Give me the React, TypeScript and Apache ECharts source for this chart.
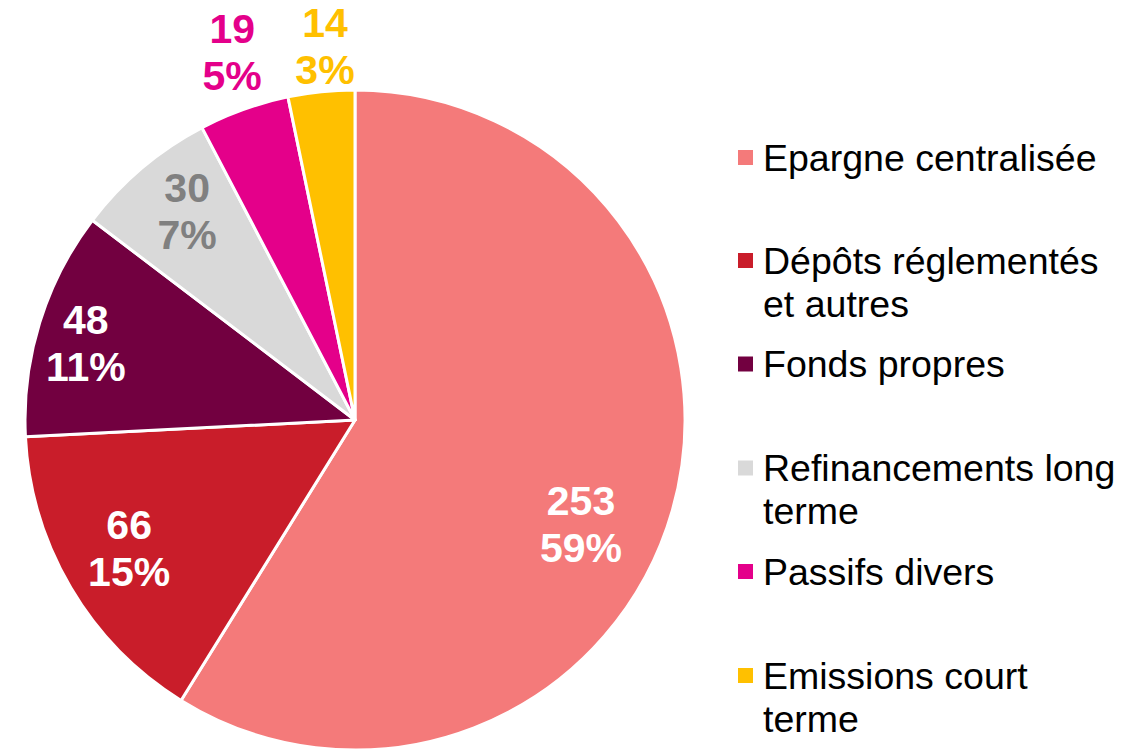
import React, { useEffect, useRef } from "react";
import * as echarts from "echarts";

// ---- data ----
const CATEGORIES = [
  "Epargne centralisée",
  "Dépôts réglementés et autres",
  "Fonds propres",
  "Refinancements long terme",
  "Passifs divers",
  "Emissions court terme",
];
const VALUES = [253, 66, 48, 30, 19, 14];
const PERCENT_LABELS = ["59%", "15%", "11%", "7%", "5%", "3%"];
const LEGEND_LABELS = [
  "Epargne centralisée",
  "Dépôts réglementés\net autres",
  "Fonds propres",
  "Refinancements long\nterme",
  "Passifs divers",
  "Emissions court\nterme",
];

// ---- styles / layout ----
const COLORS = ["#F47A7A", "#C91D2A", "#720040", "#D9D9D9", "#E4008A", "#FFC000"];
const LABEL_COLORS = ["#FFFFFF", "#FFFFFF", "#FFFFFF", "#808080", "#E4008A", "#FFC000"];
const CX = 355;
const CY = 420;
const R = 330;
// label anchor: [fraction of radius, angle clockwise from 12 o'clock in degrees]
const LABEL_POLAR: [number, number][] = [
  [0.755, 114.9],
  [0.788, 240.3],
  [0.848, 285.9],
  [0.81, 321.1],
  [1.173, 341.5],
  [1.135, 355.4],
];
// first-line centre of each legend entry (px)
const LEGEND_Y = [157.5, 260.5, 364, 468, 571.5, 675.5];
const LEGEND_X = 738;
const LEGEND_LINE = 43;
const FONT = "'Liberation Sans', Arial, Helvetica, sans-serif";

export default function App() {
  const ref = useRef<HTMLDivElement>(null);

  useEffect(() => {
    if (!ref.current) return;
    const chart = echarts.init(ref.current, undefined, { renderer: "svg" });

    const legends = CATEGORIES.map((name, i) => {
      const lines = LEGEND_LABELS[i].split("\n").length;
      // pad with empty lines above so the first text line is centred on the marker
      const padLines = lines - 1;
      const text = "\n".repeat(padLines) + LEGEND_LABELS[i];
      const boxH = (lines + padLines) * LEGEND_LINE;
      return {
        show: true,
        orient: "vertical",
        left: LEGEND_X,
        top: LEGEND_Y[i] - boxH / 2,
        padding: 0,
        itemWidth: 15,
        itemHeight: 15,
        icon: "rect",
        selectedMode: false,
        itemStyle: { borderWidth: 0 },
        data: [name],
        formatter: () => text,
        textStyle: {
          fontFamily: FONT,
          fontSize: 37.5,
          color: "#000000",
          lineHeight: LEGEND_LINE,
          padding: [0, 0, 0, 5],
        },
      };
    });

    chart.setOption({
      animation: false,
      backgroundColor: "#FFFFFF",
      legend: legends,
      series: [
        {
          type: "pie",
          center: [CX, CY],
          radius: R,
          startAngle: 90,
          clockwise: true,
          avoidLabelOverlap: false,
          itemStyle: { borderColor: "#FFFFFF", borderWidth: 3 },
          label: {
            show: true,
            position: "inside",
            rotate: 0,
            fontFamily: FONT,
            fontSize: 41,
            fontWeight: "bold",
            lineHeight: 47,
            formatter: (p: any) => `${VALUES[p.dataIndex]}\n${PERCENT_LABELS[p.dataIndex]}`,
          },
          labelLine: { show: false },
          labelLayout: (params: any) => {
            const [f, a] = LABEL_POLAR[params.dataIndex];
            const rad = (a * Math.PI) / 180;
            return {
              x: CX + f * R * Math.sin(rad),
              y: CY - f * R * Math.cos(rad),
              align: "center",
              verticalAlign: "middle",
            };
          },
          emphasis: { disabled: true },
          data: CATEGORIES.map((name, i) => ({
            name,
            value: VALUES[i],
            itemStyle: { color: COLORS[i] },
            label: { color: LABEL_COLORS[i] },
          })),
        },
      ],
    });

    return () => chart.dispose();
  }, []);

  return (
    <div
      ref={ref}
      style={{ position: "fixed", left: 0, top: 0, width: 1143, height: 749 }}
    />
  );
}
